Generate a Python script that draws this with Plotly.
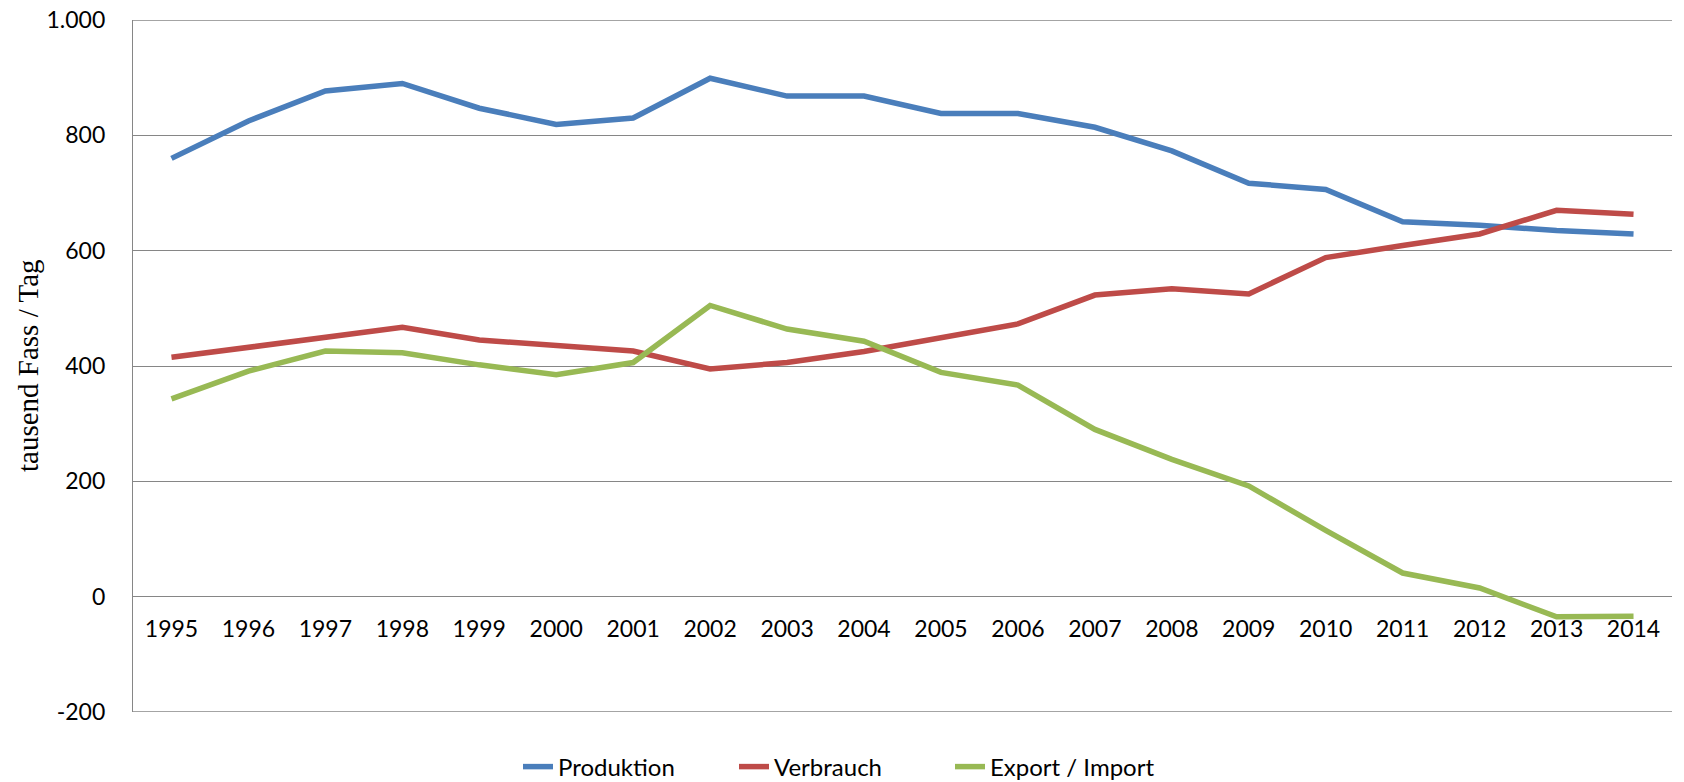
import plotly.graph_objects as go

years = [str(y) for y in range(1995, 2015)]
produktion = [760, 825, 877, 890, 847, 819, 830, 899, 868, 868, 838, 838, 814, 773, 717, 706, 650, 644, 635, 629]
verbrauch = [415, 432, 451, 467, 445, 436, 426, 395, 406, 425, 449, 473, 523, 534, 525, 588, 609, 629, 670, 663]
export_import = [343, 391, 426, 423, 402, 385, 406, 505, 464, 443, 389, 367, 290, 238, 192, 115, 41, 15, -35, -34]

series = [
    ("Produktion", produktion, "#4A7EBB"),
    ("Verbrauch", verbrauch, "#BE4B48"),
    ("Export / Import", export_import, "#98B954"),
]

fig = go.Figure()
for name, vals, col in series:
    fig.add_trace(go.Scatter(x=years, y=vals, name=name, mode="lines",
                             line=dict(color=col, width=5.5)))

W, H = 1684, 782
L, R, T, B = 133, 12, 20, 70
YMIN, YMAX = -200, 1000
PH = H - T - B
GRID = "#868686"
fig.update_layout(
    width=W, height=H,
    margin=dict(l=L, r=R, t=T, b=B, autoexpand=False),
    paper_bgcolor="white", plot_bgcolor="white",
    font=dict(family="Lato, sans-serif", size=23, color="black"),
    showlegend=True,
    legend=dict(orientation="h", xref="container", yref="paper",
                x=0.5, xanchor="center", y=-(767 - (H - B)) / PH, yanchor="middle",
                font=dict(size=24), entrywidth=171, entrywidthmode="pixels",
                tracegroupgap=0),
    xaxis=dict(type="category", range=[-0.5, len(years) - 0.5],
               anchor="free", position=(0 - YMIN) / (YMAX - YMIN),
               showgrid=False, showline=False, zeroline=False, automargin=False,
               ticks="", ticklabelstandoff=16,
               tickfont=dict(size=23)),
    yaxis=dict(range=[YMIN, YMAX], tickvals=[-200, 0, 200, 400, 600, 800, 1000],
               ticktext=["-200", "0", "200", "400", "600", "800", "1.000"],
               showgrid=True, gridcolor=GRID, gridwidth=1.3,
               showline=True, linecolor=GRID, linewidth=1.3, automargin=False,
               zeroline=False, ticks="", ticklabelstandoff=22,
               tickfont=dict(size=23)),
    shapes=[dict(type="line", xref="paper", yref="y", x0=0, x1=1, y0=v, y1=v,
                 line=dict(color=GRID, width=1.3), layer="below")
            for v in (YMIN, YMAX)],
    annotations=[dict(text="tausend Fass / Tag", xref="paper", yref="paper",
                      x=(28 - L) / (W - L - R), y=0.5, xanchor="center", yanchor="middle",
                      textangle=-90, showarrow=False,
                      font=dict(family="Liberation Serif, serif", size=29, color="black"))],
)

fig.write_html("out.html", config={"displayModeBar": False},
               post_script="document.body.style.margin='0';document.body.style.overflow='hidden';")
